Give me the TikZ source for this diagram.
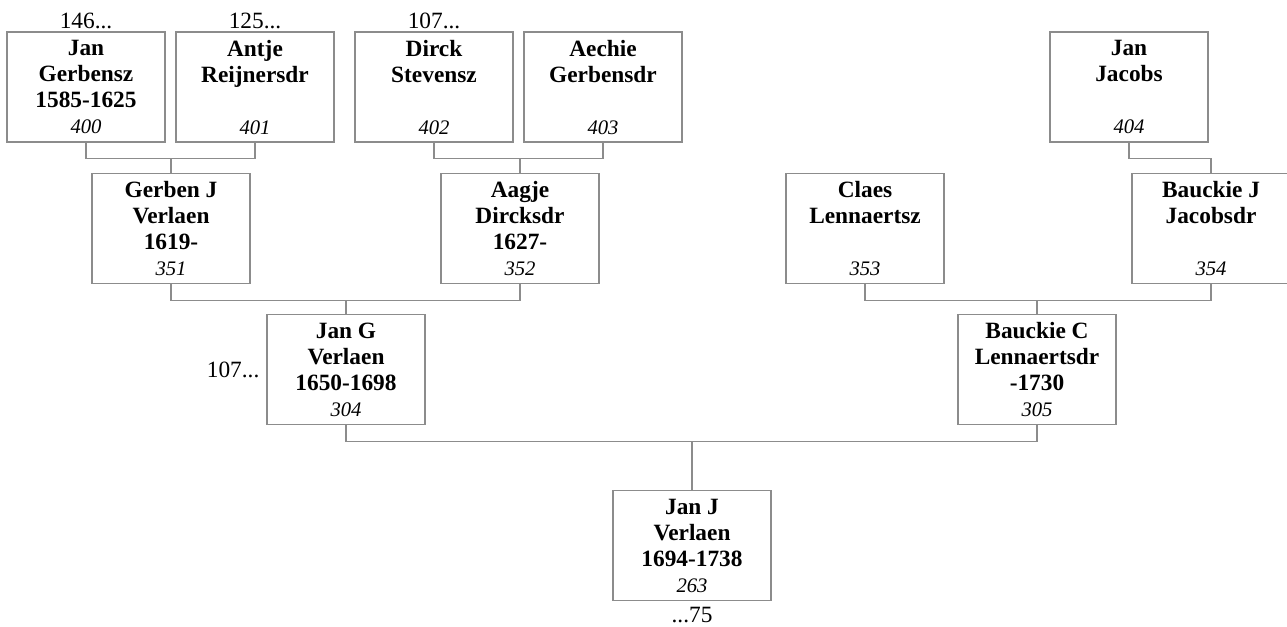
\documentclass[tikz,border=0pt]{standalone}
\usepackage{fontspec}
\setmainfont{Liberation Serif}
\usepackage{xcolor}
\usetikzlibrary{positioning}

\definecolor{boxgray}{RGB}{140,140,140}
\newcommand{\pnr}[1]{{\normalfont\itshape\fontsize{15.5}{19.5}\selectfont #1}}

\begin{document}
\begin{tikzpicture}[x=0.75pt, y=-0.75pt, node distance=2pt,
    person/.style={draw=boxgray, line width=1pt, minimum width=118.5pt, minimum height=82.5pt,
        inner sep=0pt, align=center, font=\fontsize{17.5}{19.5}\selectfont\bfseries},
    link/.style={draw=boxgray, line width=1pt},
    more/.style={inner sep=0pt, font=\fontsize{17.5}{19.5}\selectfont}]
                \useasboundingbox (0,0) rectangle (1287,626);

                \node[person] (p400) at (86,87) {Jan\\Gerbensz\\1585-1625\\\pnr{400}};
                \node[person] (p401) at (255,87) {Antje\\Reijnersdr\\~\\\pnr{401}};
                \node[person] (p402) at (434,87) {Dirck\\Stevensz\\~\\\pnr{402}};
                \node[person] (p403) at (603,87) {Aechie\\Gerbensdr\\~\\\pnr{403}};
                \node[person] (p404) at (1129,87) {Jan\\Jacobs\\~\\\pnr{404}};

                \node[person] (p351) at (171,228.5) {Gerben J\\Verlaen\\1619-\\\pnr{351}};
                \node[person] (p352) at (520,228.5) {Aagje\\Dircksdr\\1627-\\\pnr{352}};
                \node[person] (p353) at (865,228.5) {Claes\\Lennaertsz\\~\\\pnr{353}};
                \node[person] (p354) at (1211,228.5) {Bauckie J\\Jacobsdr\\~\\\pnr{354}};

                \node[person] (p304) at (346,369.5) {Jan G\\Verlaen\\1650-1698\\\pnr{304}};
                \node[person] (p305) at (1037,369.5) {Bauckie C\\Lennaertsdr\\-1730\\\pnr{305}};

                \node[person] (p263) at (692,545.5) {Jan J\\Verlaen\\1694-1738\\\pnr{263}};

                % continuation marks
                \node[more, above=2pt of p400] {146...};
                \node[more, above=2pt of p401] {125...};
                \node[more, above=2pt of p402] {107...};
                \node[more, left=5pt of p304] {107...};
                \node[more, below=4pt of p263] {...75};

                \draw[link] (p400.south) -- ++(0,16) coordinate (j1) -| (p401.south);
                \draw[link] (p351.north) -- (p351.north |- j1);
                \draw[link] (p402.south) -- ++(0,16) coordinate (j2) -| (p403.south);
                \draw[link] (p352.north) -- (p352.north |- j2);
                \draw[link] (p404.south) -- ++(0,16) -| (p354.north);

                \draw[link] (p351.south) -- ++(0,16) coordinate (j3) -| (p352.south);
                \draw[link] (p304.north) -- (p304.north |- j3);
                \draw[link] (p353.south) -- ++(0,16) coordinate (j4) -| (p354.south);
                \draw[link] (p305.north) -- (p305.north |- j4);

                \draw[link] (p304.south) -- ++(0,16) coordinate (j5) -| (p305.south);
                \draw[link] (p263.north) -- (p263.north |- j5);
            \end{tikzpicture}
\end{document}
